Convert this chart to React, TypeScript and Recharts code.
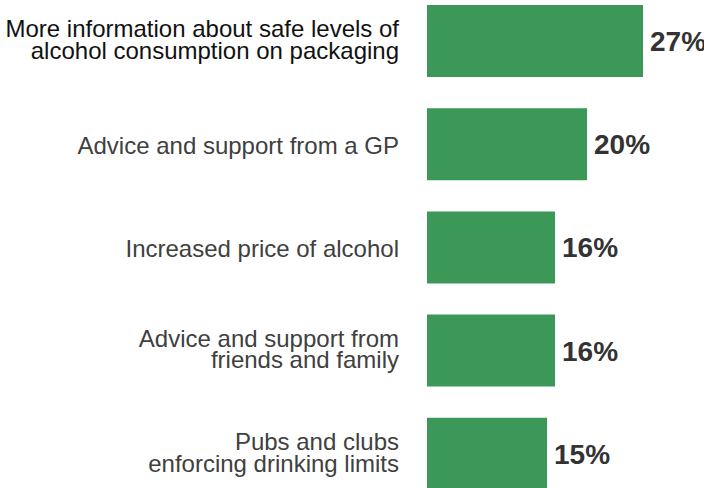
import React from "react";
import { BarChart, Bar, XAxis, YAxis, LabelList } from "recharts";

const categories: string[] = [
  "More information about safe levels of\nalcohol consumption on packaging",
  "Advice and support from a GP",
  "Increased price of alcohol",
  "Advice and support from\nfriends and family",
  "Pubs and clubs\nenforcing drinking limits",
];
const values: number[] = [27, 20, 16, 16, 15];

const data = categories.map((name, i) => ({ name, value: values[i] }));

const FONT = "'Liberation Sans', Arial, Helvetica, sans-serif";
const FONT_SIZE = 24;
const LINE_H = 21.5;

const CategoryTick = (props: any) => {
  const { x, y, payload, index } = props;
  const lines: string[] = String(payload.value).split("\n");
  const n = lines.length;
  const fill = index === 0 ? "#111111" : "#404040";
  return (
    <g>
      {lines.map((ln, i) => (
        <text
          key={i}
          x={x}
          y={y + (i - (n - 1) / 2) * LINE_H + FONT_SIZE * 0.355 + (n === 1 ? 1.5 : -1)}
          textAnchor="end"
          fontFamily={FONT}
          fontSize={FONT_SIZE}
          fill={fill}
        >
          {ln}
        </text>
      ))}
    </g>
  );
};

export default function App() {
  return (
    <div
      style={{
        position: "fixed",
        left: 0,
        top: 0,
        width: 704,
        height: 488,
        overflow: "hidden",
        background: "#ffffff",
      }}
    >
      <div style={{ position: "absolute", left: 0, top: -10.6 }}>
        <BarChart
          width={704}
          height={516}
          data={data}
          layout="vertical"
          margin={{ top: 0, right: 37, bottom: 0, left: 0 }}
        >
          <XAxis type="number" domain={[0, 30]} hide />
          <YAxis
            type="category"
            dataKey="name"
            width={427}
            axisLine={false}
            tickLine={false}
            tickSize={0}
            tickMargin={28}
            interval={0}
            tick={(p: any) => <CategoryTick {...p} />}
          />
          <Bar dataKey="value" fill="#3c9858" barSize={72} isAnimationActive={false}>
            <LabelList
              dataKey="value"
              position="right"
              offset={7}
              formatter={(v: any) => `${v}%`}
              style={{
                fontFamily: FONT,
                fontSize: 28,
                fontWeight: "bold",
                fill: "#333333",
              }}
            />
          </Bar>
        </BarChart>
      </div>
    </div>
  );
}
